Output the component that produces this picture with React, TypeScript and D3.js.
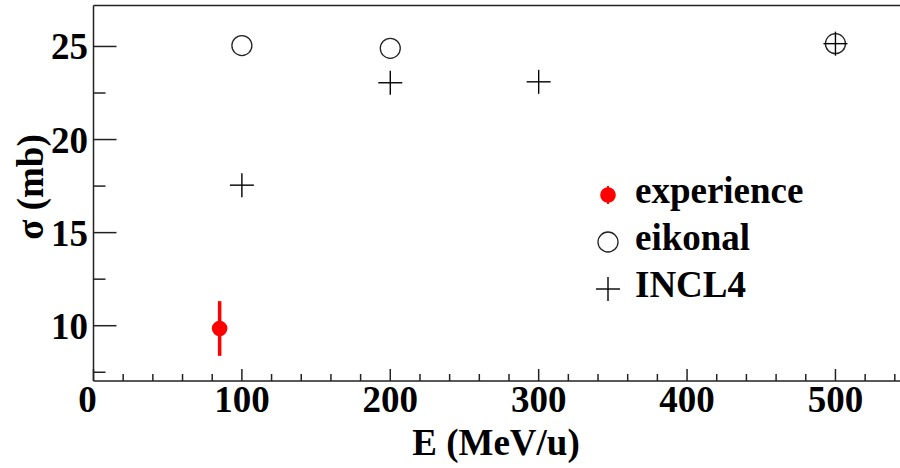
import React from "react";
import * as d3 from "d3";

const expE = [85];
const expSigma = [9.85];
const expErr = [1.47];
const eikE = [100, 200, 500];
const eikSigma = [25.05, 24.9, 25.15];
const inclE = [100, 200, 300, 500];
const inclSigma = [17.55, 23.05, 23.1, 25.15];
const xTicks = [0, 100, 200, 300, 400, 500];
const yTicks = [10, 15, 20, 25];
const legendLabels = ["experience", "eikonal", "INCL4"];

const W = 900, H = 468;
const left = 93.5, right = 900, top = 5.5, bottom = 381;
const font = "'Liberation Serif', 'Times New Roman', serif";

export default function App() {
  const x = d3.scaleLinear().domain([0, 543.5]).range([left, right]);
  const y = d3.scaleLinear().domain([7.03, 27.2]).range([bottom, top]);
  const xMinor = d3.range(0, 544, 20).filter((v) => v % 100 !== 0);
  const yMinor = d3.range(7.5, 27.2, 2.5).filter((v) => v % 5 !== 0);
  const axisColor = "#222";
  const cross = (cx: number, cy: number, key: string) => (
    <g key={key} stroke="#000" strokeWidth={1.4}>
      <line x1={cx - 12} x2={cx + 12} y1={cy} y2={cy} />
      <line x1={cx} x2={cx} y1={cy - 12} y2={cy + 12} />
    </g>
  );
  const legX = 608;
  const legRows = [195, 242, 289];
  return (
    <svg width={W} height={H} style={{ position: "absolute", left: 0, top: 0, background: "#fff" }}>
      <rect width={W} height={H} fill="#fff" />
      {/* frame */}
      <line x1={left} x2={right} y1={top} y2={top} stroke={axisColor} strokeWidth={1.5} />
      <line x1={left} x2={left} y1={top} y2={bottom} stroke={axisColor} strokeWidth={1.5} />
      <line x1={left} x2={right} y1={bottom} y2={bottom} stroke={axisColor} strokeWidth={1.5} />
      {/* x ticks */}
      {xTicks.map((t) => (
        <g key={"xt" + t}>
          <line x1={x(t)} x2={x(t)} y1={bottom} y2={bottom - 12} stroke={axisColor} strokeWidth={1.5} />
          <text x={x(t) + (t === 0 ? -6 : 0)} y={412} textAnchor="middle" fontFamily={font} fontWeight="bold" fontSize={37}>
            {t}
          </text>
        </g>
      ))}
      {xMinor.map((t) => (
        <line key={"xm" + t} x1={x(t)} x2={x(t)} y1={bottom} y2={bottom - 7} stroke={axisColor} strokeWidth={1.5} />
      ))}
      {/* y ticks */}
      {yTicks.map((t) => (
        <g key={"yt" + t}>
          <line x1={left} x2={left + 23} y1={y(t)} y2={y(t)} stroke={axisColor} strokeWidth={1.5} />
          <text x={88} y={y(t) + 13} textAnchor="end" fontFamily={font} fontWeight="bold" fontSize={37}>
            {t}
          </text>
        </g>
      ))}
      {yMinor.map((t) => (
        <line key={"ym" + t} x1={left} x2={left + 12} y1={y(t)} y2={y(t)} stroke={axisColor} strokeWidth={1.5} />
      ))}
      {/* titles */}
      <text x={496} y={455} textAnchor="middle" fontFamily={font} fontWeight="bold" fontSize={37}>
        E (MeV/u)
      </text>
      <text
        transform={`translate(43, 187) rotate(-90)`}
        textAnchor="middle"
        fontFamily={font}
        fontWeight="bold"
        fontSize={37}
      >
        σ (mb)
      </text>
      {/* experience */}
      {expE.map((e, i) => (
        <g key={"exp" + i}>
          <line x1={x(e)} x2={x(e)} y1={y(expSigma[i] + expErr[i])} y2={y(expSigma[i] - expErr[i])} stroke="#ff0000" strokeWidth={3.5} />
          <circle cx={x(e)} cy={y(expSigma[i])} r={7.8} fill="#ff0000" />
        </g>
      ))}
      {/* eikonal */}
      {eikE.map((e, i) => (
        <circle key={"eik" + i} cx={x(e)} cy={y(eikSigma[i])} r={10} fill="none" stroke="#222" strokeWidth={1.3} />
      ))}
      {/* INCL4 */}
      {inclE.map((e, i) => cross(x(e), y(inclSigma[i]), "incl" + i))}
      {/* legend */}
      <circle cx={legX} cy={legRows[0]} r={7.8} fill="#ff0000" />
      <line x1={legX} x2={legX} y1={legRows[0] - 9} y2={legRows[0] + 9} stroke="#ff0000" strokeWidth={2} />
      <circle cx={legX} cy={legRows[1]} r={10} fill="none" stroke="#222" strokeWidth={1.3} />
      {cross(legX, legRows[2], "legcross")}
      {legendLabels.map((l, i) => (
        <text key={l} x={635} y={legRows[i] + 8} fontFamily={font} fontWeight="bold" fontSize={37}>
          {l}
        </text>
      ))}
    </svg>
  );
}
